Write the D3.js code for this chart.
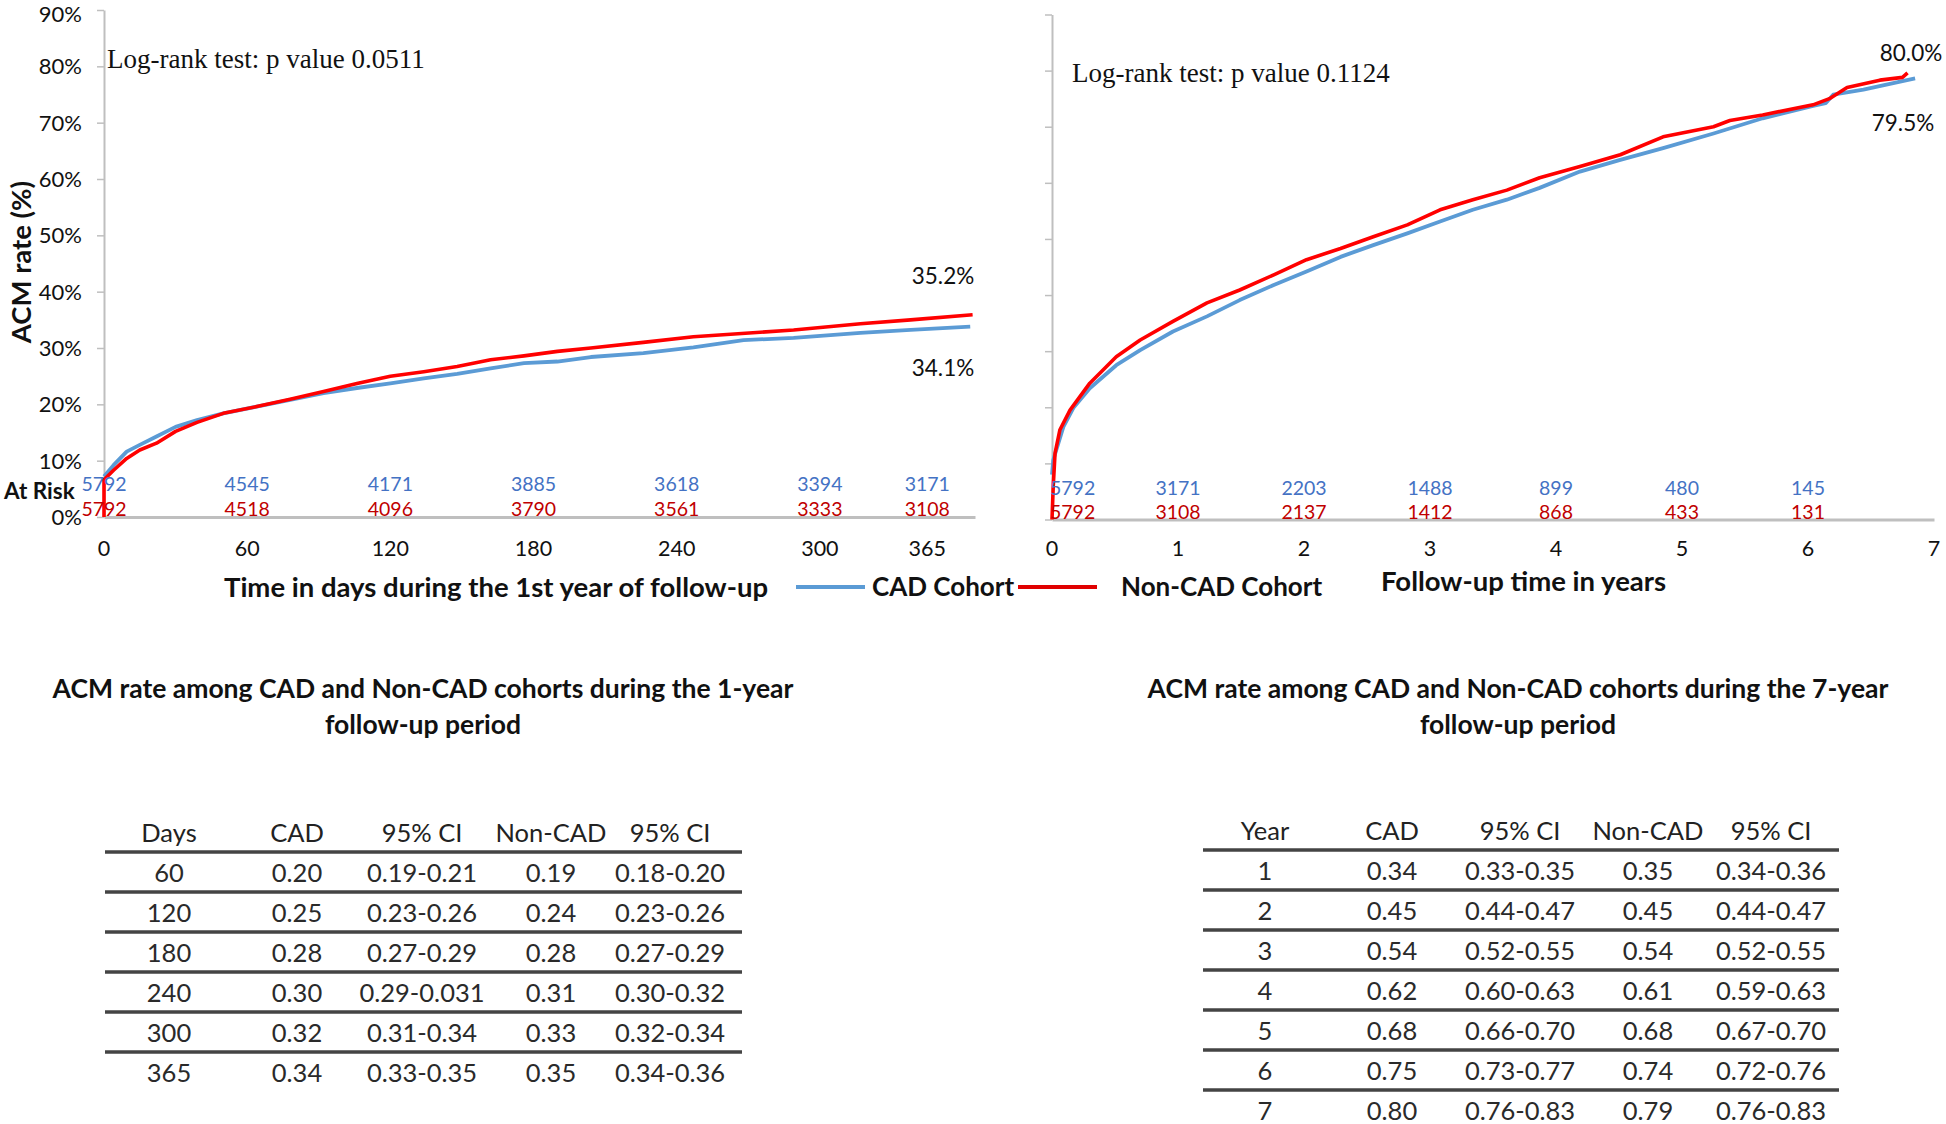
<!DOCTYPE html>
<html><head><meta charset="utf-8">
<script src="https://cdn.jsdelivr.net/npm/d3@7"></script>
<style>
html,body{margin:0;padding:0;background:#fff;}
svg{display:block;}
</style></head><body>
<svg id="c" width="1946" height="1124"></svg>
<script>
// ---------- DATA ----------
const yTicks = [0,10,20,30,40,50,60,70,80,90];
const xTicks1 = [0,60,120,180,240,300,365];
const xTicks7 = [0,1,2,3,4,5,6,7];

// 1-year curves (days, ACM %)
const cad1Days = [0,4,9.5,15,22,30,39,50,64,78,92,106,120,134,148,162,176,190,204,226,247,268,289,317,338,363];
const cad1Rate = [7.2,9.2,11.6,12.8,14.3,16.0,17.2,18.4,19.6,20.8,22.0,22.9,23.7,24.6,25.4,26.4,27.3,27.6,28.4,29.1,30.1,31.4,31.8,32.7,33.2,33.8];
const non1Days = [0,0,4,9.5,15,22,30,39,50,64,78,92,106,120,134,148,162,176,190,204,226,247,289,317,338,364];
const non1Rate = [0,6.6,8.3,10.4,11.9,13.1,15.2,16.8,18.4,19.6,20.9,22.3,23.7,25.0,25.8,26.7,27.9,28.6,29.4,30.0,31.0,32.0,33.2,34.3,35.0,35.9];

// 7-year curves (years, ACM %)
const cad7Years = [0,0.01,0.09,0.17,0.30,0.51,0.70,0.96,1.23,1.49,1.76,2.02,2.29,2.55,2.82,3.08,3.34,3.61,3.87,4.19,4.51,4.85,5.25,5.64,6.04,6.14,6.2,6.44,6.85];
const cad7Rate = [8.0,10.6,16.5,19.9,23.4,27.5,30.2,33.5,36.2,39.1,41.8,44.2,46.8,48.9,51.0,53.1,55.2,57.0,59.1,62.0,64.1,66.2,68.8,71.5,73.7,74.2,75.7,76.6,78.6];
const non7Years = [0,0.01,0.024,0.063,0.143,0.30,0.51,0.70,0.96,1.23,1.49,1.76,2.02,2.29,2.55,2.82,3.08,3.34,3.61,3.87,4.19,4.51,4.85,5.25,5.38,5.64,6.04,6.17,6.31,6.57,6.75,6.79];
const non7Rate = [0,6.0,11.8,16.0,19.5,24.3,29.0,32.0,35.3,38.6,40.9,43.6,46.3,48.3,50.4,52.5,55.2,57.0,58.7,60.9,62.9,65.0,68.2,70.0,71.1,72.1,73.9,75.0,77.0,78.3,78.8,79.6];

// numbers at risk
const risk1Cad = [5792,4545,4171,3885,3618,3394,3171];
const risk1Non = [5792,4518,4096,3790,3561,3333,3108];
const risk7Ticks = [0,1,2,3,4,5,6];
const risk7Cad = [5792,3171,2203,1488,899,480,145];
const risk7Non = [5792,3108,2137,1412,868,433,131];

// end labels
const end1 = {cad:"34.1%", non:"35.2%"};
const end7 = {cad:"79.5%", non:"80.0%"};

// tables
const tableHeader1 = ["Days","CAD","95% CI","Non-CAD","95% CI"];
const t1Days  = ["60","120","180","240","300","365"];
const t1Cad   = ["0.20","0.25","0.28","0.30","0.32","0.34"];
const t1CadCI = ["0.19-0.21","0.23-0.26","0.27-0.29","0.29-0.031","0.31-0.34","0.33-0.35"];
const t1Non   = ["0.19","0.24","0.28","0.31","0.33","0.35"];
const t1NonCI = ["0.18-0.20","0.23-0.26","0.27-0.29","0.30-0.32","0.32-0.34","0.34-0.36"];

const tableHeader2 = ["Year","CAD","95% CI","Non-CAD","95% CI"];
const t2Year  = ["1","2","3","4","5","6","7"];
const t2Cad   = ["0.34","0.45","0.54","0.62","0.68","0.75","0.80"];
const t2CadCI = ["0.33-0.35","0.44-0.47","0.52-0.55","0.60-0.63","0.66-0.70","0.73-0.77","0.76-0.83"];
const t2Non   = ["0.35","0.45","0.54","0.61","0.68","0.74","0.79"];
const t2NonCI = ["0.34-0.36","0.44-0.47","0.52-0.55","0.59-0.63","0.67-0.70","0.72-0.76","0.76-0.83"];

// ---------- STYLE ----------
const SANS = "Lato, 'Open Sans', 'Noto Sans', sans-serif";
const SERIF = "'Liberation Serif', 'DejaVu Serif', serif";
const GRAY = "#bfbfbf";
const BLUE_LINE = "#5b9bd5", RED_LINE = "#ff0000";
const BLUE_TXT = "#4472c4", RED_TXT = "#c00000";
const INK = "#111";

const svg = d3.select("#c");

// ---------- SCALES ----------
const xL = d3.scaleLinear().domain([0,365]).range([104,975]);
const yL = d3.scaleLinear().domain([0,90]).range([517,10]);
const xR = d3.scaleLinear().domain([0,7]).range([1052,1934]);
const yR = d3.scaleLinear().domain([0,90]).range([519.5,14.5]);
// the "365" label in the original sits left of the axis end
const labelDay = d => d === 365 ? 345 : d;

function styleAxis(g){
  g.select(".domain").attr("stroke", GRAY).attr("stroke-width", 2);
  g.selectAll(".tick line").attr("stroke", GRAY).attr("stroke-width", 1.5);
  g.selectAll(".tick text").attr("font-family", SANS).attr("font-size", 22).attr("fill", INK)
    .attr("dy", d => d === 90 ? "0.5em" : "0.34em");
}

// ---------- LEFT CHART ----------
const gyL = svg.append("g").attr("transform", `translate(${xL(0)},0)`)
  .call(d3.axisLeft(yL).tickValues(yTicks).tickFormat(d => d + "%").tickSize(7).tickSizeOuter(0).tickPadding(15));
styleAxis(gyL);
const gxL = svg.append("g").attr("transform", `translate(0,${yL(0)})`)
  .call(d3.axisBottom(xL).tickValues([]).tickSizeOuter(0));
gxL.select(".domain").attr("stroke", GRAY).attr("stroke-width", 3);

svg.append("g").selectAll("text").data(xTicks1).join("text")
  .attr("x", d => xL(labelDay(d))).attr("y", 556)
  .attr("text-anchor", "middle").attr("font-family", SANS).attr("font-size", 21.5).attr("fill", INK)
  .text(d => d);

const lineL = d3.line().x(d => xL(d[0])).y(d => yL(d[1]));
svg.append("path").datum(d3.zip(cad1Days, cad1Rate)).attr("d", lineL)
  .attr("fill", "none").attr("stroke", BLUE_LINE).attr("stroke-width", 3.8).attr("stroke-linejoin", "round");
svg.append("path").datum(d3.zip(non1Days, non1Rate)).attr("d", lineL)
  .attr("fill", "none").attr("stroke", RED_LINE).attr("stroke-width", 3.6).attr("stroke-linejoin", "round");

svg.append("g").selectAll("text").data(risk1Cad).join("text")
  .attr("x", (d,i) => xL(labelDay(xTicks1[i]))).attr("y", 483)
  .attr("dominant-baseline", "central").attr("text-anchor", "middle")
  .attr("font-family", SANS).attr("font-size", 19.5).attr("fill", BLUE_TXT).text(d => d);
svg.append("g").selectAll("text").data(risk1Non).join("text")
  .attr("x", (d,i) => xL(labelDay(xTicks1[i]))).attr("y", 508)
  .attr("dominant-baseline", "central").attr("text-anchor", "middle")
  .attr("font-family", SANS).attr("font-size", 19.5).attr("fill", RED_TXT).text(d => d);

svg.append("text").attr("x", 4).attr("y", 490).attr("dominant-baseline", "central")
  .attr("font-family", SANS).attr("font-size", 22.5).attr("font-weight", "bold").attr("fill", INK).text("At Risk");

svg.append("text").attr("transform", "translate(20,262) rotate(-90)").attr("text-anchor", "middle")
  .attr("dominant-baseline", "central")
  .attr("font-family", SANS).attr("font-size", 27.5).attr("font-weight", "bold").attr("fill", INK).text("ACM rate (%)");

svg.append("text").attr("x", 107).attr("y", 68).attr("font-family", SERIF).attr("font-size", 27)
  .attr("fill", INK).text("Log-rank test: p value 0.0511");

svg.append("text").attr("x", xL(365) - 32).attr("y", 275).attr("dominant-baseline", "central").attr("text-anchor", "middle")
  .attr("font-family", SANS).attr("font-size", 22.5).attr("fill", INK).text(end1.non);
svg.append("text").attr("x", xL(365) - 32).attr("y", 367).attr("dominant-baseline", "central").attr("text-anchor", "middle")
  .attr("font-family", SANS).attr("font-size", 22.5).attr("fill", INK).text(end1.cad);

// ---------- RIGHT CHART ----------
const gyR = svg.append("g").attr("transform", `translate(${xR(0)},0)`)
  .call(d3.axisLeft(yR).tickValues(yTicks).tickFormat("").tickSize(7).tickSizeOuter(0));
styleAxis(gyR);
const gxR = svg.append("g").attr("transform", `translate(0,${yR(0)})`)
  .call(d3.axisBottom(xR).tickValues([]).tickSizeOuter(0));
gxR.select(".domain").attr("stroke", GRAY).attr("stroke-width", 3);

svg.append("g").selectAll("text").data(xTicks7).join("text")
  .attr("x", d => xR(d)).attr("y", 556)
  .attr("text-anchor", "middle").attr("font-family", SANS).attr("font-size", 21.5).attr("fill", INK)
  .text(d => d);

const lineR = d3.line().x(d => xR(d[0])).y(d => yR(d[1]));
svg.append("path").datum(d3.zip(cad7Years, cad7Rate)).attr("d", lineR)
  .attr("fill", "none").attr("stroke", BLUE_LINE).attr("stroke-width", 3.8).attr("stroke-linejoin", "round");
svg.append("path").datum(d3.zip(non7Years, non7Rate)).attr("d", lineR)
  .attr("fill", "none").attr("stroke", RED_LINE).attr("stroke-width", 3.6).attr("stroke-linejoin", "round");

svg.append("g").selectAll("text").data(risk7Cad).join("text")
  .attr("x", (d,i) => i === 0 ? xR(0) - 2 : xR(risk7Ticks[i])).attr("y", 487)
  .attr("dominant-baseline", "central").attr("text-anchor", (d,i) => i === 0 ? "start" : "middle")
  .attr("font-family", SANS).attr("font-size", 19.5).attr("fill", BLUE_TXT).text(d => d);
svg.append("g").selectAll("text").data(risk7Non).join("text")
  .attr("x", (d,i) => i === 0 ? xR(0) - 2 : xR(risk7Ticks[i])).attr("y", 511)
  .attr("dominant-baseline", "central").attr("text-anchor", (d,i) => i === 0 ? "start" : "middle")
  .attr("font-family", SANS).attr("font-size", 19.5).attr("fill", RED_TXT).text(d => d);

svg.append("text").attr("x", 1072).attr("y", 82).attr("font-family", SERIF).attr("font-size", 27)
  .attr("fill", INK).text("Log-rank test: p value 0.1124");

svg.append("text").attr("x", 1911).attr("y", 52).attr("dominant-baseline", "central").attr("text-anchor", "middle")
  .attr("font-family", SANS).attr("font-size", 22.5).attr("fill", INK).text(end7.non);
svg.append("text").attr("x", 1903).attr("y", 122).attr("dominant-baseline", "central").attr("text-anchor", "middle")
  .attr("font-family", SANS).attr("font-size", 22.5).attr("fill", INK).text(end7.cad);

// ---------- AXIS TITLES & LEGEND ----------
const boldText = size => s => s.attr("font-family", SANS).attr("font-size", size).attr("font-weight", "bold")
  .attr("fill", INK).attr("dominant-baseline", "central");
svg.append("text").attr("x", 224).attr("y", 586).call(boldText(27.5)).text("Time in days during the 1st year of follow-up");
svg.append("line").attr("x1", 796).attr("x2", 865).attr("y1", 587).attr("y2", 587).attr("stroke", BLUE_LINE).attr("stroke-width", 4);
svg.append("text").attr("x", 872).attr("y", 586).call(boldText(26)).text("CAD Cohort");
svg.append("line").attr("x1", 1018).attr("x2", 1097).attr("y1", 587).attr("y2", 587).attr("stroke", "#e00000").attr("stroke-width", 4);
svg.append("text").attr("x", 1121).attr("y", 586).call(boldText(26)).text("Non-CAD Cohort");
svg.append("text").attr("x", 1381).attr("y", 580).call(boldText(27.5)).text("Follow-up time in years");

// ---------- TABLES ----------
function drawTable(opts){
  const g = svg.append("g");
  g.append("text").attr("x", opts.cx).attr("y", opts.titleY).attr("text-anchor", "middle").call(boldText(26.5)).text(opts.title1);
  g.append("text").attr("x", opts.cx).attr("y", opts.titleY + 36).attr("text-anchor", "middle").call(boldText(26.5)).text(opts.title2);
  const n = opts.cols[0].length;
  const yRow = d3.scaleLinear().domain([0, 1]).range([opts.headerY, opts.headerY + 40]);
  g.selectAll("text.h").data(opts.header).join("text").attr("class", "h")
    .attr("x", (d,i) => opts.colX[i]).attr("y", yRow(0))
    .attr("text-anchor", "middle").attr("dominant-baseline", "central")
    .attr("font-family", SANS).attr("font-size", 25.5).attr("fill", "#222").text(d => d);
  g.selectAll("line").data(d3.range(n)).join("line")
    .attr("x1", opts.x0).attr("x2", opts.x1)
    .attr("y1", i => yRow(i + 0.5)).attr("y2", i => yRow(i + 0.5))
    .attr("stroke", "#444").attr("stroke-width", 3.5);
  opts.cols.forEach((col, ci) => {
    g.selectAll("text.c" + ci).data(col).join("text").attr("class", "c" + ci)
      .attr("x", opts.colX[ci]).attr("y", (d,i) => yRow(i + 1))
      .attr("text-anchor", "middle").attr("dominant-baseline", "central")
      .attr("font-family", SANS).attr("font-size", 25.5).attr("fill", "#2a2a2a").text(d => d);
  });
}
drawTable({
  cx: 423, titleY: 688, title1: "ACM rate among CAD and Non-CAD cohorts during the 1-year", title2: "follow-up period",
  header: tableHeader1, cols: [t1Days, t1Cad, t1CadCI, t1Non, t1NonCI],
  colX: [169, 297, 422, 551, 670], headerY: 832, x0: 105, x1: 742
});
drawTable({
  cx: 1518, titleY: 688, title1: "ACM rate among CAD and Non-CAD cohorts during the 7-year", title2: "follow-up period",
  header: tableHeader2, cols: [t2Year, t2Cad, t2CadCI, t2Non, t2NonCI],
  colX: [1265, 1392, 1520, 1648, 1771], headerY: 830, x0: 1203, x1: 1839
});
</script>
</body></html>
